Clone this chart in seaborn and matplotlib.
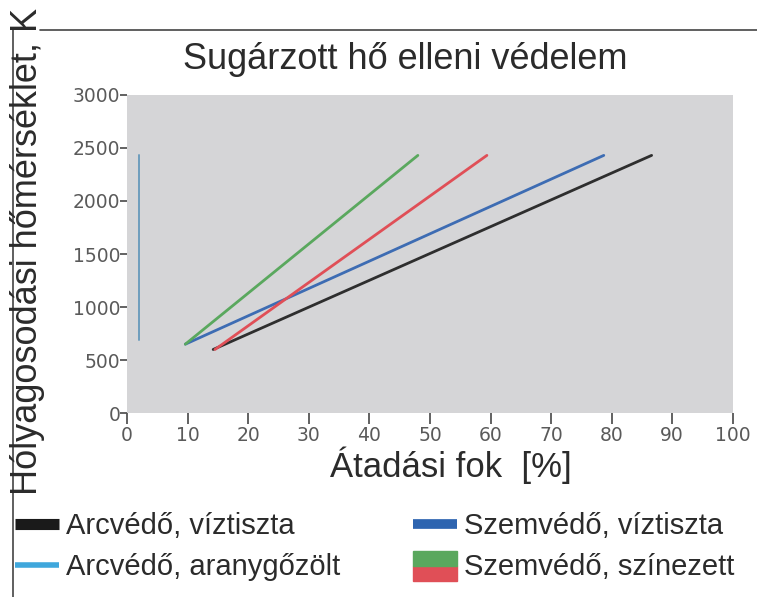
import numpy as np
import pandas as pd
import matplotlib
matplotlib.use('Agg')
import matplotlib.pyplot as plt
import seaborn as sns
from matplotlib.lines import Line2D
from matplotlib.patches import Rectangle
from matplotlib.legend_handler import HandlerBase

# ------ adatok (leolvasva az abrarol) ------
series = ['Arcvédő, víztiszta', 'Arcvédő, aranygőzölt',
          'Szemvédő, víztiszta', 'Szemvédő, színezett (zöld)', 'Szemvédő, színezett (piros)']
x_arc_viz = [14.2, 86.6]
y_arc_viz = [600, 2430]
x_arc_arany = [2.0, 2.0]
y_arc_arany = [690, 2430]
x_szem_viz = [9.6, 78.7]
y_szem_viz = [650, 2430]
x_szem_zold = [9.6, 48.0]
y_szem_zold = [650, 2430]
x_szem_piros = [14.5, 59.4]
y_szem_piros = [600, 2430]

xs = [x_arc_viz, x_arc_arany, x_szem_viz, x_szem_zold, x_szem_piros]
ys = [y_arc_viz, y_arc_arany, y_szem_viz, y_szem_zold, y_szem_piros]
df = pd.concat([pd.DataFrame({'sor': s, 'x': x, 'y': y}) for s, x, y in zip(series, xs, ys)])

colors = {series[0]: '#2e2e2e', series[1]: '#6e9dbd', series[2]: '#3d6cb3',
          series[3]: '#5aa85e', series[4]: '#e04f57'}

sns.set_style('white')
plt.rcParams['font.family'] = ['Liberation Sans', 'DejaVu Sans']
txt = '#2b2b2b'

fig = plt.figure(figsize=(7.57, 5.97), dpi=100)
ax = fig.add_axes([0.168, 0.308, 0.800, 0.533])
ax.set_facecolor('#d5d5d7')

sns.lineplot(data=df, x='x', y='y', hue='sor', palette=colors, estimator=None,
             sort=False, ax=ax, legend=False, linewidth=2)
ax.lines[1].set_linewidth(1.4)

ax.set_xlim(0, 100)
ax.set_ylim(0, 3000)
ax.set_xticks(range(0, 101, 10))
ax.set_yticks(range(0, 3001, 500))
for s in ax.spines.values():
    s.set_visible(False)
ax.tick_params(axis='x', bottom=True, direction='out', length=8, width=1.3, color='#555555',
               labelsize=13.5, labelcolor='#5a5a5a', pad=1)
ax.tick_params(axis='y', left=True, direction='out', length=5, width=1.3, color='#555555',
               labelsize=13.5, labelcolor='#5a5a5a', pad=0)
for lab in ax.get_xticklabels() + ax.get_yticklabels():
    lab.set_family('DejaVu Sans')
ax.set_xlabel('Átadási fok  [%]', fontsize=25, color=txt, labelpad=2)
ax.xaxis.set_label_coords(0.535, -0.105)
ax.set_ylabel('')

fig.text(0.535, 0.9, 'Sugárzott hő elleni védelem', fontsize=26, color=txt,
         ha='center', va='center')
fig.text(0.036, 0.578, 'Hólyagosodási hőmérséklet, K', fontsize=26, color=txt,
         rotation=90, ha='center', va='center')

# keret vonalak
fig.add_artist(Line2D([0.053, 1.0], [0.95, 0.95], color='#444444', lw=1.2))
fig.add_artist(Line2D([0.017, 0.017], [0.0, 0.95], color='#444444', lw=1.2))


class TwoTone(HandlerBase):
    def create_artists(self, legend, orig, xd, yd, w, h, fs, trans):
        top = Rectangle((-xd, -yd + h * 0.45), w, h * 0.75, color=colors[series[3]], transform=trans)
        bot = Rectangle((-xd, -yd - h * 0.3), w, h * 0.75, color=colors[series[4]], transform=trans)
        return [bot, top]


handles = [Line2D([], [], color='#1a1a1a', lw=8, solid_capstyle='butt'),
           Line2D([], [], color='#3fa7dc', lw=4, solid_capstyle='butt'),
           Line2D([], [], color='#2d64b0', lw=7, solid_capstyle='butt'),
           Rectangle((0, 0), 1, 1)]
labels = ['Arcvédő, víztiszta', 'Arcvédő, aranygőzölt',
          'Szemvédő, víztiszta', 'Szemvédő, színezett']
leg = fig.legend(handles, labels, ncol=2, loc='upper left', bbox_to_anchor=(0.02, 0.142),
                 frameon=False, fontsize=21, handlelength=1.5, handletextpad=0.25,
                 columnspacing=2.5, labelspacing=0.45, borderpad=0, borderaxespad=0,
                 handler_map={Rectangle: TwoTone()})
for t in leg.get_texts():
    t.set_color(txt)

fig.savefig('out.png', dpi=100)
